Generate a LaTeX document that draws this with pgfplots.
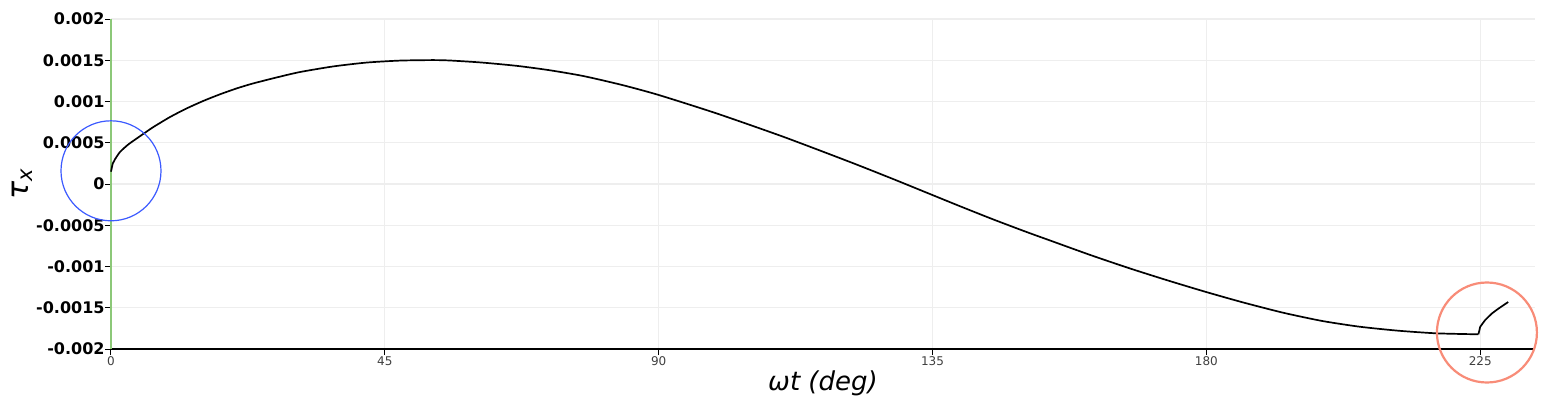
\documentclass[border=0pt]{standalone}
\usepackage{fontspec}
\setmainfont{DejaVu Sans}
\usepackage{pgfplots}
\pgfplotsset{compat=1.18}
\definecolor{gridc}{RGB}{238,238,238}
\definecolor{yaxc}{RGB}{140,200,120}
\definecolor{bluec}{RGB}{60,90,255}
\definecolor{redc}{RGB}{248,140,120}
\begin{document}
\begin{tikzpicture}
\begin{axis}[
 at={(0,0)}, anchor=south west,
 scale only axis, width=712pt, height=165pt,
 xmin=0, xmax=234, ymin=-0.002, ymax=0.002,
 axis lines*=left,
 x axis line style={draw=black, line width=0.6pt},
 y axis line style={draw=yaxc, line width=0.6pt},
 xtick={0,45,90,135,180,225}, xticklabels={0,45,90,135,180,225},
 ytick={-0.002,-0.0015,-0.001,-0.0005,0,0.0005,0.001,0.0015,0.002},
 yticklabels={-0.002,-0.0015,-0.001,-0.0005,0,0.0005,0.001,0.0015,0.002},
 scaled y ticks=false,
 tick align=outside, major tick length=3pt,
 tick style={black, line width=0.5pt},
 grid=major, major grid style={gridc, line width=0.6pt},
 xticklabel style={font=\fontsize{6}{7}\selectfont, text=black!75, inner sep=0.5pt},
 yticklabel style={font=\bfseries\fontsize{8}{9}\selectfont, inner sep=0pt},
 xlabel={\textit{ωt (deg)}},
 ylabel={\textit{τ\textsubscript{x}}},
 every axis x label/.style={at={(axis description cs:0.5,0)}, anchor=center, yshift=-17pt, font=\fontsize{13}{15}\selectfont},
 every axis y label/.style={at={([xshift=-44.5pt]axis description cs:0,0.5)}, rotate=90, anchor=center, font=\fontsize{15}{17}\selectfont},
 clip=false,
]
\addplot[black, line width=0.85pt, smooth, tension=0.4] coordinates {
(0.0,0.00015) (0.3,0.00025) (0.66,0.0003) (1.5,0.00039) (2.85,0.00048)
(3.9,0.000535) (5.4,0.000612) (6.95,0.00069) (9.7,0.000812) (12.4,0.000915)
(15.2,0.001008) (17.9,0.001087) (20.7,0.00116) (23.4,0.00122) (27.8,0.001302)
(31.1,0.001358) (36.5,0.001425) (42,0.001472) (47.5,0.001496) (52.9,0.001502)
(55.7,0.001497) (61,0.001472) (66.7,0.001432) (72,0.00138) (77.6,0.001309)
(84,0.0012) (90,0.001079) (99.5,0.000856) (110.5,0.000572) (121.5,0.000265)
(128.6,0.000058) (134.1,-0.000107) (139.5,-0.000269) (145.0,-0.00043) (150.5,-0.000583)
(154.1,-0.000679) (161.1,-0.000865) (167.5,-0.001025) (173.7,-0.00117) (180,-0.00131)
(186,-0.001435) (192.6,-0.00156) (199,-0.00166) (205.2,-0.00173) (211.5,-0.001778)
(217.8,-0.00181) (224.7,-0.001822)
};
\addplot[black, line width=0.85pt] coordinates {
(224.7,-0.001822) (225.0,-0.00173) (225.8,-0.00165) (226.9,-0.00157) (228.0,-0.00151) (229.6,-0.00143)
};
\addplot[only marks, mark=o, mark size=25pt, mark options={draw=bluec, line width=0.6pt}] coordinates {(0,0.00016)};
\addplot[only marks, mark=o, mark size=25pt, mark options={draw=redc, line width=1.1pt}] coordinates {(226.1,-0.0018)};
\end{axis}
\pgfresetboundingbox
\useasboundingbox (-55.5pt,-29.5pt) rectangle (722pt,174.5pt);
\end{tikzpicture}
\end{document}
